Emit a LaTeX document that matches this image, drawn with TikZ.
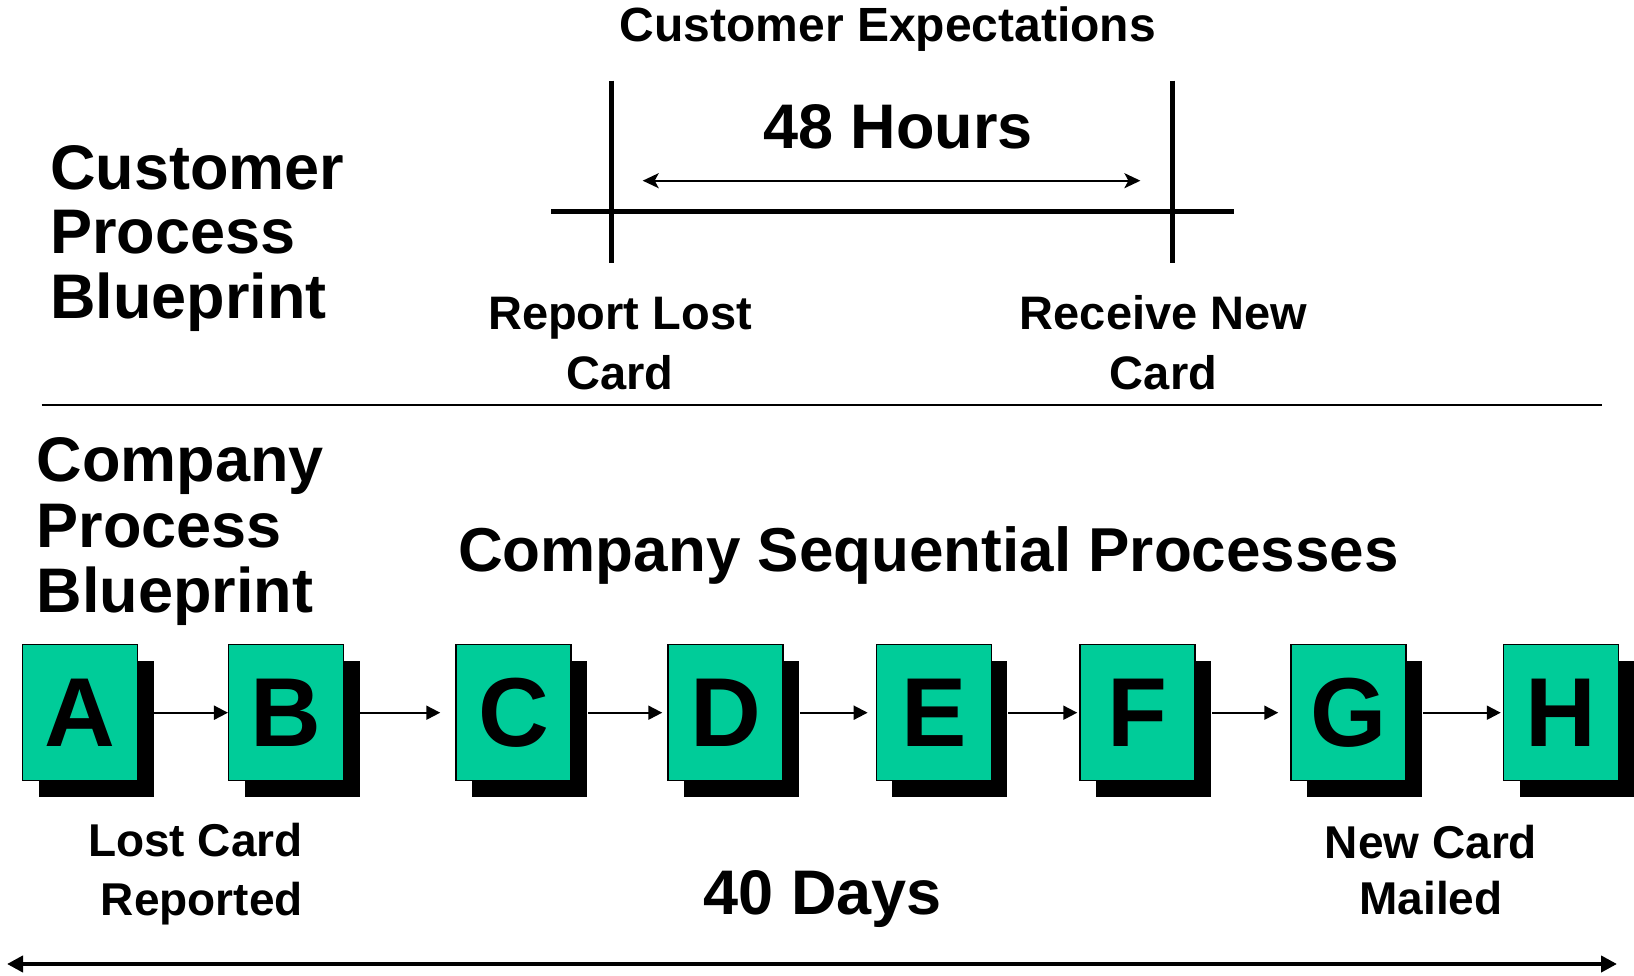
\documentclass[tikz,border=0pt]{standalone}
\usepackage{fontspec}
\setmainfont{Liberation Sans}
\usetikzlibrary{arrows.meta,shadows}
\definecolor{boxgreen}{RGB}{0,204,153}
% font size helper: size and line spacing, always bold
\newcommand\bsz[2]{\fontsize{#1}{#2}\selectfont\bfseries}
\begin{document}
\begin{tikzpicture}[x=1pt,y=-1pt,
  stepbox/.style={draw=black, line width=1.5pt, fill=boxgreen,
    minimum width=115pt, minimum height=136pt, inner sep=0pt,
    font=\bsz{98}{98},
    drop shadow={shadow xshift=16pt, shadow yshift=-16pt, fill=black, opacity=1, draw=none}},
  flow/.style={line width=2pt, -{Triangle[length=14pt,width=14pt]}},
  lbl/.style={inner sep=0pt, align=center},
  heavy/.style={line width=5pt},
]
\useasboundingbox (0,0) rectangle (1634,976);

% ---- customer side ----
% multi-line nodes are anchored at the baseline of their last line
\node[lbl, anchor=base, font=\bsz{48}{58}] (cexp) at (888,41.7) {Customer Expectations};
\node[lbl, anchor=base west, align=left, font=\bsz{63}{64.5}] (cpb) at (50,318.5) {Customer\\Process\\Blueprint};

\coordinate (tlL) at (551,211.7);
\coordinate (tlR) at (1234,211.7);
\coordinate (v1t) at (611.5,80.7);
\coordinate (v1b) at (611.5,262.7);
\coordinate (v2t) at (1172,80.7);
\coordinate (v2b) at (1172,262.7);
\draw[heavy] (tlL) -- (tlR);
\draw[heavy] (v1t) -- (v1b);
\draw[heavy] (v2t) -- (v2b);

\coordinate (hL) at (642.7,180.7);
\coordinate (hR) at (1140.4,180.7);
\draw[line width=2pt, {Stealth[length=16pt,width=15pt,inset=4pt]}-{Stealth[length=16pt,width=15pt,inset=4pt]}] (hL) -- (hR);
\node[lbl, anchor=base, font=\bsz{63}{63}] (hrs) at (898,148.3) {48 Hours};

\node[lbl, anchor=base, font=\bsz{47}{59.7}] (rlc) at (620,389.7) {Report Lost\\Card};
\node[lbl, anchor=base, font=\bsz{47}{59.7}] (rnc) at (1163.5,389.7) {Receive New\\Card};

% divider
\coordinate (dL) at (41.7,405);
\coordinate (dR) at (1601.7,405);
\draw[line width=2.5pt] (dL) -- (dR);

% ---- company side ----
\node[lbl, anchor=base west, align=left, font=\bsz{63}{65.5}] (kpb) at (36.5,612.5) {Company\\Process\\Blueprint};
\node[lbl, anchor=base, font=\bsz{62}{62}] (csp) at (928.5,571) {Company Sequential Processes};

\node[stepbox] (A) at (80,712.7) {A};
\node[stepbox] (B) at (286.2,712.7) {B};
\node[stepbox] (C) at (513.5,712.7) {C};
\node[stepbox] (D) at (725.5,712.7) {D};
\node[stepbox] (E) at (933.9,712.7) {E};
\node[stepbox] (F) at (1137.5,712.7) {F};
\node[stepbox] (G) at (1348.5,712.7) {G};
\node[stepbox] (H) at (1561,712.7) {H};

\draw[flow] ([xshift=16pt]A.east) -- (B.west);
\draw[flow] ([xshift=16pt]B.east) -- ([xshift=-15pt]C.west);
\draw[flow] ([xshift=16pt]C.east) -- ([xshift=-5pt]D.west);
\draw[flow] ([xshift=16pt]D.east) -- ([xshift=-8pt]E.west);
\draw[flow] ([xshift=16pt]E.east) -- ([xshift=-2pt]F.west);
\draw[flow] ([xshift=16pt]F.east) -- ([xshift=-12pt]G.west);
\draw[flow] ([xshift=16pt]G.east) -- ([xshift=-2pt]H.west);

\node[lbl, anchor=base east, align=right, font=\bsz{46}{58.3}] (lcr) at (303,915) {Lost Card\\Reported};
\node[lbl, anchor=base, font=\bsz{46}{56}] (ncm) at (1431,914) {New Card\\Mailed};
\node[lbl, anchor=base, font=\bsz{63}{63}] (days) at (822.7,914) {40 Days};

\coordinate (bL) at (7,964);
\coordinate (bR) at (1617,964);
\draw[line width=4.7pt, {Triangle[length=16pt,width=16pt]}-{Triangle[length=16pt,width=16pt]}] (bL) -- (bR);
\end{tikzpicture}
\end{document}
